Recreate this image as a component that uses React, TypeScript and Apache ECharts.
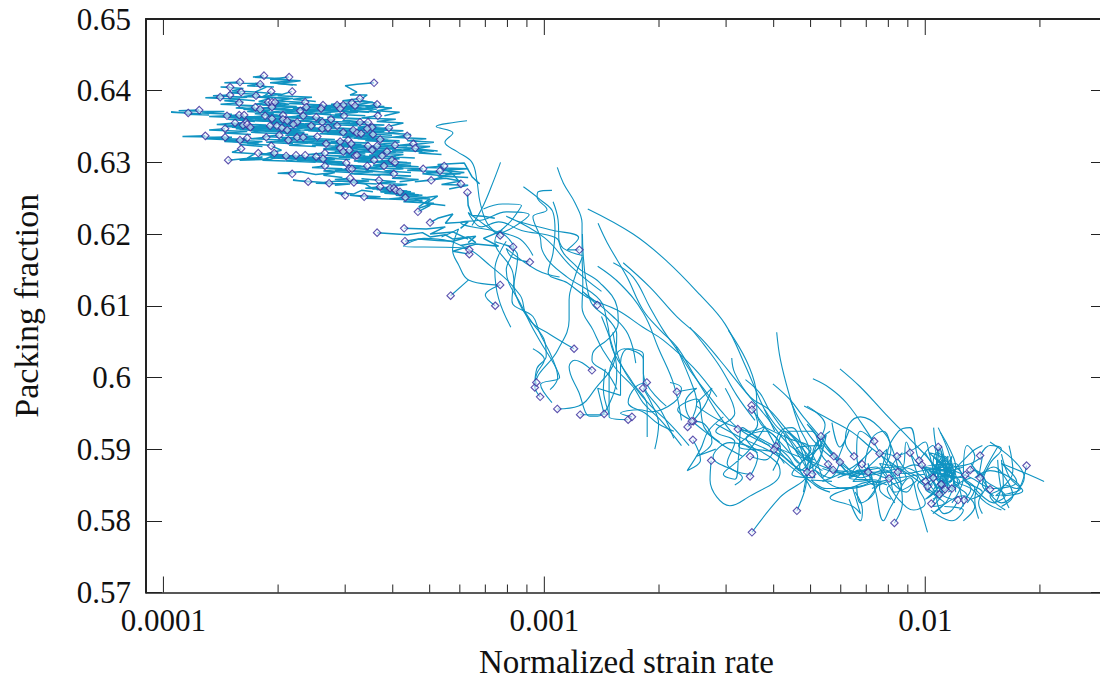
import React, { useEffect, useRef } from "react";
import * as echarts from "echarts";

// All tracks: flat lists of log10(normalized strain rate), packing fraction pairs.
const tickYLabelsMin = 0.57;
const tickYLabelsMax = 0.65;
const xMin = 9e-5;
const xMax = 0.03;
const majorTicks = [1e-4, 1e-3, 1e-2];
const minorTicks = [2e-4,3e-4,4e-4,5e-4,6e-4,7e-4,8e-4,9e-4,2e-3,3e-3,4e-3,5e-3,6e-3,7e-3,8e-3,9e-3,2e-2];
const xTickLabels = ["0.0001", "0.001", "0.01"];

// tracks on the dense plateau; first pair of each carries a marker
const plateauTracks: number[][] = [
[-3.736,.6421,-3.765,.6419,-3.70,.6417,-3.66,.6414,-3.72,.6411,-3.65,.6408],
[-3.670,.6419,-3.72,.6416,-3.64,.6414,-3.70,.6410,-3.66,.6408],
[-3.799,.6412,-3.84,.6411,-3.74,.6410,-3.78,.6407,-3.71,.6405],
[-3.825,.6405,-3.85,.6405,-3.79,.6403,-3.82,.6400,-3.76,.6398],
[-3.746,.6409,-3.73,.6405,-3.76,.6398,-3.69,.6395,-3.74,.6392,-3.67,.6389],
[-3.662,.6399,-3.70,.6393,-3.61,.6391,-3.66,.6388,-3.60,.6385],
[-3.717,.6399,-3.74,.6391,-3.66,.6389,-3.71,.6386,-3.64,.6384],
[-3.447,.6411,-3.492,.6409,-3.523,.6407,-3.492,.6398,-3.51,.6394,-3.465,.6394,-3.484,.6387,-3.44,.6382,-3.47,.6375,-3.43,.6368],
[-3.796,.6398,-3.83,.6397,-3.75,.6395,-3.79,.6392,-3.72,.6390],
[-3.825,.6394,-3.87,.6393,-3.78,.6391,-3.83,.6389,-3.76,.6386],
[-3.851,.6391,-3.89,.6390,-3.80,.6388,-3.84,.6386,-3.79,.6384],
[-3.757,.6393,-3.72,.6389,-3.75,.6385,-3.68,.6382,-3.72,.6379],
[-3.801,.6383,-3.85,.6381,-3.76,.6379,-3.81,.6376,-3.74,.6374],
[-3.725,.6384,-3.76,.6381,-3.68,.6379,-3.73,.6376,-3.66,.6373],
[-3.715,.6384,-3.67,.6381,-3.71,.6378,-3.63,.6376,-3.68,.6372],
[-3.707,.6384,-3.74,.6380,-3.65,.6378,-3.70,.6374,-3.62,.6372],
[-3.715,.6377,-3.76,.6375,-3.67,.6373,-3.72,.6370,-3.64,.6368],
[-3.628,.6384,-3.67,.6382,-3.58,.6380,-3.63,.6377,-3.56,.6375],
[-3.484,.6389,-3.53,.6386,-3.45,.6384,-3.50,.6380,-3.42,.6378,-3.47,.6375],
[-3.505,.6383,-3.56,.6381,-3.47,.6379,-3.53,.6376,-3.44,.6374],
[-3.497,.6379,-3.54,.6377,-3.45,.6375,-3.51,.6372,-3.43,.6370],
[-3.528,.6380,-3.57,.6378,-3.48,.6376,-3.54,.6372,-3.46,.6370],
[-3.544,.6380,-3.60,.6378,-3.50,.6376,-3.56,.6373,-3.49,.6370],
[-3.581,.6380,-3.63,.6378,-3.54,.6376,-3.59,.6373,-3.52,.6371],
[-3.586,.6375,-3.64,.6373,-3.54,.6371,-3.60,.6368,-3.53,.6365],
[-3.536,.6375,-3.58,.6373,-3.49,.6370,-3.55,.6367,-3.47,.6365],
[-3.641,.6372,-3.69,.6370,-3.60,.6368,-3.65,.6365,-3.58,.6362],
[-3.625,.6377,-3.66,.6375,-3.57,.6373,-3.63,.6370,-3.56,.6367],
[-3.439,.6381,-3.47,.6378,-3.40,.6376,-3.44,.6372,-3.38,.6370,-3.42,.6365],
[-3.906,.6373,-3.96,.6372,-3.84,.6371,-3.90,.6369,-3.82,.6367],
[-3.935,.6369,-3.98,.6370,-3.90,.6368,-3.94,.6367,-3.88,.6366],
[-3.759,.6377,-3.79,.6374,-3.72,.6372,-3.76,.6368,-3.70,.6366],
[-3.746,.6374,-3.78,.6371,-3.71,.6369,-3.74,.6366,-3.68,.6363],
[-3.833,.6365,-3.88,.6364,-3.78,.6362,-3.83,.6360,-3.76,.6357],
[-3.801,.6366,-3.84,.6365,-3.74,.6363,-3.80,.6360,-3.72,.6357],
[-3.788,.6366,-3.83,.6364,-3.74,.6362,-3.79,.6359,-3.71,.6357],
[-3.733,.6365,-3.78,.6363,-3.69,.6361,-3.74,.6358,-3.66,.6356],
[-3.686,.6366,-3.73,.6364,-3.64,.6362,-3.69,.6359,-3.61,.6357],
[-3.633,.6365,-3.68,.6363,-3.59,.6361,-3.64,.6358,-3.56,.6356],
[-3.526,.6365,-3.57,.6363,-3.48,.6361,-3.53,.6358,-3.46,.6356],
[-3.437,.6365,-3.48,.6362,-3.39,.6360,-3.44,.6357,-3.37,.6355,-3.41,.6350],
[-3.812,.6355,-3.86,.6353,-3.77,.6351,-3.82,.6349,-3.75,.6347],
[-3.783,.6356,-3.82,.6354,-3.73,.6352,-3.78,.6349,-3.71,.6346],
[-3.791,.6352,-3.84,.6350,-3.75,.6348,-3.80,.6346,-3.72,.6343],
[-3.780,.6353,-3.82,.6351,-3.73,.6349,-3.78,.6346,-3.70,.6344],
[-3.772,.6349,-3.81,.6347,-3.73,.6345,-3.77,.6342,-3.69,.6340],
[-3.715,.6361,-3.76,.6359,-3.67,.6357,-3.72,.6354,-3.65,.6352],
[-3.686,.6360,-3.73,.6358,-3.64,.6356,-3.69,.6353,-3.62,.6351],
[-3.675,.6358,-3.72,.6356,-3.63,.6354,-3.68,.6351,-3.60,.6349],
[-3.649,.6356,-3.69,.6354,-3.60,.6352,-3.65,.6349,-3.58,.6347],
[-3.659,.6353,-3.70,.6351,-3.62,.6349,-3.66,.6346,-3.59,.6344],
[-3.599,.6363,-3.64,.6361,-3.55,.6359,-3.60,.6356,-3.53,.6354],
[-3.583,.6356,-3.63,.6354,-3.54,.6352,-3.59,.6349,-3.52,.6347],
[-3.560,.6360,-3.60,.6358,-3.51,.6356,-3.56,.6353,-3.49,.6351],
[-3.544,.6351,-3.59,.6349,-3.50,.6347,-3.55,.6344,-3.47,.6342],
[-3.484,.6356,-3.53,.6354,-3.44,.6352,-3.49,.6349,-3.42,.6347],
[-3.463,.6356,-3.51,.6354,-3.42,.6352,-3.47,.6349,-3.40,.6347],
[-3.452,.6349,-3.49,.6347,-3.41,.6345,-3.46,.6342,-3.38,.6340],
[-3.408,.6348,-3.45,.6346,-3.37,.6344,-3.41,.6341,-3.35,.6339,-3.39,.6335],
[-3.838,.6347,-3.88,.6345,-3.78,.6343,-3.84,.6341,-3.77,.6339],
[-3.720,.6351,-3.76,.6349,-3.68,.6347,-3.72,.6344,-3.65,.6342],
[-3.702,.6351,-3.74,.6349,-3.65,.6347,-3.71,.6344,-3.63,.6342],
[-3.689,.6348,-3.73,.6346,-3.64,.6344,-3.69,.6341,-3.62,.6339],
[-3.675,.6345,-3.72,.6343,-3.63,.6341,-3.68,.6338,-3.60,.6336],
[-3.612,.6351,-3.65,.6349,-3.57,.6347,-3.62,.6344,-3.54,.6342],
[-3.583,.6347,-3.63,.6345,-3.53,.6343,-3.59,.6340,-3.51,.6338],
[-3.568,.6348,-3.61,.6346,-3.52,.6344,-3.57,.6341,-3.50,.6339],
[-3.528,.6342,-3.57,.6340,-3.48,.6338,-3.53,.6335,-3.46,.6333],
[-3.502,.6345,-3.55,.6343,-3.46,.6341,-3.51,.6338,-3.44,.6336],
[-3.492,.6341,-3.54,.6339,-3.45,.6337,-3.50,.6334,-3.42,.6332],
[-3.481,.6340,-3.52,.6338,-3.43,.6336,-3.49,.6333,-3.41,.6331],
[-3.465,.6347,-3.51,.6345,-3.42,.6343,-3.47,.6340,-3.40,.6338],
[-3.450,.6339,-3.49,.6337,-3.40,.6335,-3.46,.6332,-3.38,.6330],
[-3.431,.6332,-3.47,.6330,-3.38,.6328,-3.44,.6325,-3.36,.6323],
[-3.890,.6337,-3.95,.6336,-3.82,.6335,-3.89,.6333,-3.80,.6331],
[-3.838,.6335,-3.88,.6334,-3.78,.6332,-3.84,.6330,-3.76,.6327],
[-3.799,.6331,-3.84,.6329,-3.75,.6327,-3.80,.6325,-3.74,.6322],
[-3.780,.6334,-3.81,.6331,-3.74,.6329,-3.78,.6326,-3.72,.6324],
[-3.730,.6335,-3.77,.6333,-3.68,.6331,-3.73,.6328,-3.66,.6326],
[-3.696,.6338,-3.74,.6336,-3.65,.6334,-3.70,.6331,-3.63,.6329],
[-3.672,.6331,-3.71,.6329,-3.62,.6327,-3.67,.6324,-3.60,.6322],
[-3.649,.6335,-3.69,.6333,-3.60,.6331,-3.65,.6328,-3.58,.6326],
[-3.633,.6335,-3.68,.6333,-3.58,.6331,-3.63,.6328,-3.56,.6326],
[-3.596,.6336,-3.64,.6334,-3.55,.6332,-3.60,.6329,-3.53,.6327],
[-3.536,.6329,-3.58,.6327,-3.48,.6325,-3.54,.6322,-3.46,.6320],
[-3.515,.6331,-3.56,.6329,-3.46,.6327,-3.52,.6324,-3.44,.6322],
[-3.360,.6337,-3.40,.6335,-3.31,.6333,-3.36,.6330,-3.29,.6328,-3.34,.6325],
[-3.344,.6326,-3.38,.6324,-3.30,.6322,-3.34,.6319,-3.28,.6316],
[-3.339,.6320,-3.37,.6318,-3.29,.6316,-3.33,.6313,-3.27,.6311],
[-3.573,.6326,-3.61,.6324,-3.53,.6322,-3.58,.6319,-3.50,.6317],
[-3.507,.6326,-3.55,.6324,-3.46,.6322,-3.51,.6319,-3.44,.6317],
[-3.463,.6323,-3.50,.6321,-3.41,.6319,-3.47,.6316,-3.39,.6314],
[-3.439,.6323,-3.48,.6321,-3.39,.6319,-3.44,.6316,-3.37,.6314],
[-3.392,.6324,-3.44,.6322,-3.35,.6320,-3.40,.6317,-3.32,.6315],
[-3.452,.6317,-3.50,.6315,-3.41,.6313,-3.46,.6310,-3.39,.6308],
[-3.536,.6320,-3.58,.6318,-3.49,.6316,-3.54,.6313,-3.47,.6310],
[-3.528,.6315,-3.57,.6313,-3.48,.6311,-3.53,.6308,-3.46,.6306],
[-3.512,.6317,-3.55,.6315,-3.47,.6313,-3.52,.6310,-3.45,.6308],
[-3.497,.6309,-3.54,.6307,-3.45,.6305,-3.50,.6302,-3.43,.6300],
[-3.492,.6310,-3.53,.6308,-3.44,.6306,-3.49,.6303,-3.42,.6301],
[-3.413,.6315,-3.45,.6313,-3.37,.6311,-3.41,.6308,-3.34,.6306],
[-3.426,.6309,-3.47,.6307,-3.38,.6305,-3.43,.6302,-3.36,.6300],
[-3.796,.6319,-3.82,.6314,-3.76,.6312,-3.78,.6306,-3.72,.6304,-3.70,.6308],
[-3.751,.6313,-3.71,.6310,-3.74,.6303,-3.68,.6302],
[-3.717,.6323,-3.69,.6317,-3.73,.6312,-3.67,.6310,-3.71,.6306],
[-3.709,.6313,-3.75,.6311,-3.66,.6309,-3.71,.6306,-3.63,.6304],
[-3.678,.6309,-3.72,.6307,-3.63,.6305,-3.68,.6302,-3.60,.6300],
[-3.652,.6310,-3.69,.6308,-3.60,.6306,-3.65,.6303,-3.58,.6301],
[-3.628,.6310,-3.67,.6308,-3.58,.6306,-3.63,.6303,-3.56,.6301],
[-3.599,.6308,-3.64,.6306,-3.55,.6304,-3.60,.6301,-3.53,.6299],
[-3.581,.6305,-3.62,.6303,-3.53,.6301,-3.58,.6298,-3.51,.6296],
[-3.576,.6313,-3.62,.6311,-3.53,.6309,-3.58,.6306,-3.51,.6304],
[-3.447,.6303,-3.49,.6301,-3.40,.6299,-3.45,.6296,-3.38,.6294],
[-3.400,.6303,-3.44,.6301,-3.35,.6299,-3.40,.6296,-3.33,.6294],
[-3.392,.6300,-3.43,.6298,-3.35,.6296,-3.39,.6293,-3.32,.6291],
[-3.465,.6295,-3.51,.6293,-3.42,.6291,-3.47,.6288,-3.40,.6286],
[-3.421,.6295,-3.46,.6293,-3.37,.6291,-3.42,.6288,-3.35,.6286],
[-3.830,.6303,-3.79,.6305,-3.74,.6307,-3.80,.6303,-3.74,.6304],
[-3.576,.6295,-3.61,.6293,-3.53,.6291,-3.58,.6288,-3.51,.6286],
[-3.520,.6299,-3.56,.6297,-3.48,.6295,-3.52,.6292,-3.46,.6290],
[-3.512,.6291,-3.55,.6289,-3.46,.6287,-3.51,.6284,-3.44,.6283],
[-3.505,.6291,-3.54,.6289,-3.45,.6287,-3.50,.6284,-3.43,.6282],
[-3.318,.6291,-3.36,.6289,-3.27,.6287,-3.32,.6284,-3.26,.6281,-3.29,.6276],
[-3.263,.6295,-3.31,.6293,-3.20,.6291,-3.27,.6289,-3.21,.6286,-3.26,.6283],
[-3.274,.6288,-3.31,.6286,-3.22,.6284,-3.28,.6281,-3.20,.6279],
[-3.395,.6284,-3.44,.6283,-3.35,.6281,-3.40,.6278,-3.33,.6276,-3.38,.6273],
[-3.662,.6284,-3.70,.6285,-3.64,.6287,-3.60,.6283,-3.55,.6286,-3.58,.6282,-3.53,.6279],
[-3.510,.6278,-3.55,.6276,-3.46,.6274,-3.51,.6272,-3.44,.6270],
[-3.500,.6272,-3.47,.6270,-3.45,.6263,-3.40,.6266,-3.44,.6262],
[-3.620,.6273,-3.66,.6275,-3.58,.6272,-3.54,.6274,-3.49,.6272],
[-3.565,.6271,-3.60,.6271,-3.51,.6270,-3.55,.6268],
[-3.434,.6275,-3.48,.6277,-3.39,.6273,-3.44,.6271,-3.36,.6269,-3.41,.6266],
[-3.297,.6275,-3.34,.6273,-3.26,.6278,-3.22,.6274,-3.27,.6269,-3.20,.6268,-3.25,.6263],
[-3.219,.6270,-3.24,.6284,-3.28,.6297,-3.21,.6299,-3.19,.6280,-3.17,.6270],
[-3.431,.6266,-3.47,.6264,-3.38,.6262,-3.43,.6259,-3.35,.6257],
[-3.405,.6264,-3.44,.6262,-3.36,.6260,-3.41,.6257,-3.33,.6255],
[-3.395,.6264,-3.43,.6262,-3.35,.6259,-3.39,.6256,-3.32,.6254],
[-3.390,.6261,-3.43,.6259,-3.34,.6257,-3.39,.6254,-3.31,.6251],
[-3.379,.6259,-3.42,.6257,-3.33,.6254,-3.38,.6251,-3.30,.6249,-3.33,.6238],
[-3.365,.6251,-3.41,.6249,-3.32,.6247,-3.37,.6245,-3.29,.6243,-3.33,.6236],
[-3.523,.6254,-3.55,.6258,-3.50,.6256,-3.48,.6261,-3.45,.6259],
[-3.473,.6252,-3.51,.6254,-3.43,.6252,-3.47,.6250,-3.41,.6249],
[-3.202,.6258,-3.20,.6240,-3.19,.6226,-3.16,.6225,-3.13,.6222],
[-3.332,.6231,-3.30,.6240,-3.34,.6249,-3.28,.6253,-3.31,.6243,-3.26,.6240],
[-3.368,.6208,-3.31,.6207,-3.26,.6210,-3.30,.6200,-3.24,.6203,-3.20,.6193],
[-3.300,.6216,-3.28,.6222,-3.24,.6228,-3.26,.6215,-3.20,.6217,-3.22,.6208],
[-3.439,.6202,-3.36,.6199,-3.32,.6202,-3.30,.6196,-3.26,.6199,-3.24,.6193,-3.18,.6197,-3.20,.6188],
[-3.366,.6190,-3.33,.6193,-3.28,.6191,-3.24,.6190,-3.20,.6196,-3.18,.6188,-3.22,.6184],
[-3.197,.6172,-3.24,.6176,-3.18,.6186,-3.12,.6183,-3.16,.6194,-3.11,.6205],
];

// long sweeps with no marker, coming down from the plateau
const sweepTracks: number[][] = [
[-2.886,.6235,-2.767,.6200,-2.678,.6162,-2.591,.6115,-2.525,.6074,-2.473,.6017,-2.434,.5969,-2.395,.5925],
[-2.859,.6215,-2.835,.6188,-2.783,.6140,-2.741,.6094,-2.696,.6066,-2.651,.6042,-2.610,.6006,-2.571,.5972,-2.539,.5945,-2.49,.5913,-2.44,.5895],
[-2.793,.6160,-2.723,.6126,-2.651,.6084,-2.591,.6056,-2.539,.6024,-2.486,.5989,-2.42,.5947,-2.355,.5905,-2.29,.5885],
[-2.819,.6160,-2.767,.6140,-2.723,.6098,-2.688,.6066,-2.651,.6038,-2.618,.6010,-2.573,.5978,-2.539,.5955,-2.486,.5927,-2.408,.5905],
[-2.966,.6293,-2.950,.6271,-2.919,.6243,-2.901,.6215,-2.901,.6173,-2.899,.6132,-2.901,.6098,-2.872,.6066,-2.846,.6038,-2.809,.6010,-2.767,.5987,-2.741,.5965,-2.696,.5941,-2.64,.5905],
[-3.055,.6266,-3.011,.6248,-2.977,.6230,-2.972,.6206,-2.977,.6174,-2.990,.6146,-2.940,.6132,-2.888,.6112,-2.809,.6094,-2.741,.6070,-2.688,.6052,-2.609,.6014,-2.547,.5973],
[-2.977,.6245,-2.964,.6220,-2.961,.6188,-2.914,.6154,-2.854,.6132,-2.809,.6098,-2.806,.6076,-2.828,.6056,-2.873,.6034,-2.875,.6024,-2.835,.6006,-2.809,.5983],
[-2.980,.6261,-3.016,.6259,-3.019,.6252,-2.993,.6234,-3.030,.6224,-3.011,.6196,-3.006,.6178,-2.985,.6160,-2.940,.6140,-2.854,.6108,-2.835,.6076,-2.820,.6038,-2.767,.5992,-2.730,.5959,-2.730,.5917],
[-3.115,.6300,-3.132,.6276,-3.160,.6240,-3.190,.6212],
[-3.111,.6195,-3.17,.6218,-3.20,.6230,-3.165,.6210,-3.12,.6217,-3.06,.6205,-2.97,.6195,-2.95,.6180,-2.90,.6170],
[-3.116,.6201,-3.08,.6210,-3.04,.6227,-3.10,.6231,-3.16,.6220,-3.22,.6216,-3.07,.6195,-3.03,.6170],
[-3.088,.6070,-3.12,.6110,-3.13,.6150,-3.10,.6190],
[-2.525,.5985,-2.50,.5950,-2.55,.5925,-2.50,.5910,-2.52,.5880,-2.48,.5860,-2.50,.5850],
[-2.618,.6070,-2.58,.6045,-2.539,.6015,-2.495,.5975,-2.447,.5940],
[-2.654,.6043,-2.61,.5987,-2.60,.5965,-2.61,.5945],
[-2.82,.6063,-2.80,.6020,-2.76,.5985,-2.72,.5960,-2.67,.5935,-2.62,.5905],
[-2.86,.6155,-2.80,.6130,-2.74,.6090,-2.70,.6040,-2.66,.5990,-2.64,.5940],
];

// descending tracks whose first pair carries a marker
const descentTracks: number[][] = [
[-3.116,.6198,-3.150,.6215,-3.169,.6245,-3.177,.6274,-3.190,.6300,-3.229,.6315,-3.261,.6328,-3.240,.6341,-3.284,.6350,-3.234,.6356,-3.203,.6358],
[-2.861,.6101,-2.90,.6120,-2.82,.6085,-2.78,.6060,-2.76,.6020],
[-3.025,.5986,-3.02,.6005,-3.00,.6025,-3.03,.6040],
[-3.116,.6129,-3.199,.6136,-3.225,.6157,-3.241,.6178,-3.225,.6207,-3.252,.6200,-3.27,.6196],
[-3.246,.6114,-3.199,.6136],
[-3.129,.6100,-3.155,.6115,-3.116,.6129],
[-3.197,.6178,-3.248,.6190,-3.316,.6194,-3.37,.6183,-3.22,.6181,-3.14,.6155,-3.064,.6115,-3.050,.6090,-3.015,.6054,-2.974,.6018,-2.96,.6000,-3.01,.5990,-2.98,.5965],
[-3.082,.6182,-3.128,.6189,-3.07,.6170,-3.085,.6107,-3.03,.6085,-3.013,.6063,-2.98,.6028,-2.965,.6000,-2.985,.5983],
[-3.038,.6161,-3.085,.6168,-3.10,.6180,-3.02,.6150,-2.96,.6140],
[-2.908,.6178,-2.94,.6178,-2.91,.6195,-2.985,.6206,-3.07,.6218,-3.10,.6225,-3.00,.6195,-2.93,.6155,-2.85,.6120],
[-2.922,.6040,-2.985,.6060,-3.035,.6078,-3.075,.6115,-3.085,.6150,-3.13,.6190,-3.085,.6220,-3.06,.6240,-3.11,.6242,-3.16,.6235],
[-2.875,.6010,-2.92,.6024,-2.935,.6015,-2.91,.5980,-2.88,.5946,-2.86,.5946,-2.82,.5975,-2.81,.6010,-2.825,.6050,-2.85,.6085],
[-3.021,.5993,-3.025,.5987,-3.02,.6012,-2.995,.6030,-3.00,.6052,-3.03,.6075,-3.06,.6100,-3.10,.6150,-3.08,.6180,-3.12,.6205],
[-3.011,.5973,-3.025,.5987,-2.965,.6038,-2.935,.6080,-2.935,.6108,-2.92,.6140,-2.90,.6168],
[-2.966,.5956,-2.91,.5960,-2.865,.5985,-2.815,.6025,-2.81,.6060,-2.83,.6080,-2.88,.6108,-2.90,.6200],
[-2.906,.5948,-2.83,.5949,-2.845,.5983,-2.84,.6012],
[-2.843,.5949,-2.86,.5985,-2.80,.5975,-2.80,.6020,-2.78,.6040,-2.74,.6032,-2.74,.6005,-2.68,.5960],
[-2.780,.5941,-2.83,.5945,-2.83,.6000,-2.79,.6040,-2.74,.6025,-2.74,.5995,-2.69,.5950,-2.66,.5915],
[-2.770,.5945,-2.80,.5950,-2.75,.5955,-2.72,.5952,-2.66,.5965,-2.64,.5985,-2.67,.5993],
[-2.731,.5993,-2.76,.5987,-2.78,.5965,-2.735,.5950,-2.70,.5935,-2.66,.5925],
[-2.741,.5985,-2.72,.5965,-2.70,.5935,-2.71,.5900],
[-2.652,.5980,-2.60,.5985,-2.63,.5965,-2.62,.5945,-2.58,.5925,-2.53,.5905,-2.48,.5890],
[-2.624,.5931,-2.58,.5960,-2.56,.5985,-2.60,.5965],
[-2.609,.5939,-2.65,.5955,-2.60,.5970,-2.58,.5930,-2.54,.5910],
[-2.613,.5939,-2.58,.5935,-2.56,.5910,-2.60,.5890,-2.55,.5900],
[-2.610,.5913,-2.59,.5885,-2.625,.5870,-2.59,.5900,-2.57,.5925,-2.53,.5945],
[-2.456,.5961,-2.44,.5935,-2.49,.5905,-2.39,.5895,-2.34,.5875,-2.29,.5865],
];

// bottom-end tracks, with markers on the first pair
const bottomTracks: number[][] = [
[-2.455,.5784,-2.381,.5833,-2.310,.5867,-2.337,.5895,-2.363,.5917,-2.394,.5934,-2.421,.5955],
[-2.337,.5814,-2.316,.5843,-2.308,.5867,-2.29,.5899,-2.263,.5934,-2.31,.5960],
[-2.562,.5884,-2.565,.5857,-2.547,.5833,-2.513,.5821,-2.468,.5832,-2.381,.5867,-2.389,.5881,-2.441,.5899,-2.513,.5909,-2.557,.5889,-2.50,.5870,-2.46,.5865],
[-2.492,.5928,-2.46,.5925,-2.42,.5932,-2.46,.5900,-2.50,.5880,-2.53,.5865,-2.50,.5858,-2.49,.5890,-2.48,.5930,-2.44,.5915,-2.40,.5900,-2.37,.5880],
[-2.460,.5890,-2.42,.5885,-2.39,.5905,-2.37,.5925,-2.33,.5905,-2.30,.5880,-2.32,.5860],
[-2.392,.5904,-2.36,.5890,-2.33,.5870,-2.29,.5895,-2.26,.5920,-2.28,.5885,-2.31,.5870],
[-2.397,.5899,-2.38,.5925,-2.35,.5930,-2.32,.5900,-2.30,.5880,-2.29,.5905,-2.25,.5925],
[-2.310,.5868,-2.33,.5905,-2.36,.5925,-2.30,.5925,-2.27,.5890,-2.25,.5875,-2.27,.5860],
[-2.297,.5865,-2.27,.5900,-2.31,.5935,-2.28,.5915,-2.25,.5895,-2.21,.5870],
[-2.274,.5918,-2.25,.5899,-2.211,.5878,-2.171,.5860,-2.106,.5871,-2.066,.5843],
[-2.240,.5890,-2.198,.5871,-2.145,.5864,-2.053,.5874,-2.00,.5857],
[-2.224,.5882,-2.25,.5860,-2.29,.5871,-2.224,.5846,-2.145,.5857,-2.15,.5880],
[-2.255,.5879,-2.21,.5864,-2.171,.5871,-2.132,.5843,-2.17,.5825,-2.18,.5850],
[-2.242,.5871,-2.19,.5868,-2.13,.5875,-2.10,.5860,-2.05,.5840,-2.03,.5855],
[-2.187,.5890,-2.21,.5910,-2.20,.5935,-2.17,.5945,-2.12,.5930,-2.09,.5900,-2.11,.5870,-2.13,.5850],
[-2.166,.5879,-2.14,.5860,-2.19,.5855,-2.13,.5885,-2.10,.5900,-2.12,.5845,-2.09,.5830],
[-2.150,.5868,-2.20,.5860,-2.16,.5870,-2.08,.5875,-2.05,.5860,-2.10,.5845,-2.08,.5825],
[-2.095,.5859,-2.12,.5880,-2.06,.5875,-2.05,.5910,-2.03,.5880,-2.01,.5855,-1.98,.5850],
[-2.072,.5868,-2.10,.5890,-2.07,.5925,-2.04,.5930,-2.02,.5890,-2.00,.5870,-1.99,.5840],
[-2.081,.5797,-2.06,.5825,-2.07,.5870,-2.09,.5905,-2.11,.5925,-2.14,.5915,-2.16,.5875],
[-2.134,.5911,-2.17,.5925,-2.18,.5900,-2.17,.5870,-2.13,.5850,-2.10,.5855,-2.14,.5845],
[-2.120,.5894,-2.08,.5890,-2.05,.5870,-2.02,.5860,-2.08,.5840,-2.09,.5870,-2.06,.5895],
[-2.074,.5890,-2.03,.5900,-2.00,.5910,-1.99,.5895,-1.97,.5860,-1.94,.5850,-1.98,.5830],
[-2.040,.5895,-2.02,.5880,-1.99,.5865,-2.02,.5850,-2.00,.5825,-2.03,.5815,-2.07,.5830,-2.10,.5855],
[-2.016,.5884,-1.98,.5905,-1.97,.5870,-2.00,.5845,-1.96,.5835,-1.98,.5860,-1.95,.5880],
[-2.009,.5878,-1.99,.5865,-1.97,.5845,-2.00,.5830,-1.95,.5855,-1.93,.5875],
[-1.966,.5903,-1.97,.5880,-1.96,.5860,-1.98,.5840,-1.95,.5825,-1.98,.5820,-1.93,.5850],
[-1.979,.5860,-1.96,.5880,-1.94,.5890,-1.95,.5860,-1.97,.5845,-1.92,.5860],
[-1.999,.5855,-1.97,.5880,-1.96,.5905,-1.94,.5870,-1.91,.5855,-1.94,.5840],
[-1.994,.5848,-1.97,.5860,-1.95,.5885,-1.93,.5860,-1.96,.5840,-1.93,.5830],
[-1.958,.5851,-1.98,.5870,-1.97,.5895,-1.93,.5875,-1.91,.5845,-1.90,.5820],
[-1.948,.5844,-1.97,.5875,-1.95,.5890,-1.92,.5850,-1.89,.5835,-1.91,.5815],
[-1.963,.5837,-1.94,.5860,-1.95,.5880,-1.92,.5875,-1.90,.5860,-1.93,.5825],
[-1.930,.5845,-1.95,.5865,-1.92,.5880,-1.90,.5860,-1.87,.5845,-1.89,.5825],
[-1.984,.5824,-1.96,.5850,-1.97,.5870,-1.94,.5875,-1.92,.5840],
[-1.914,.5829,-1.93,.5815,-1.95,.5810,-1.97,.5830,-1.92,.5850,-1.88,.5860],
[-1.898,.5829,-1.88,.5845,-1.90,.5860,-1.87,.5870,-1.84,.5850,-1.86,.5825,-1.85,.5810],
[-1.895,.5864,-1.93,.5860,-1.95,.5870,-1.88,.5880,-1.85,.5890,-1.86,.5860],
[-1.882,.5871,-1.87,.5890,-1.89,.5905,-1.90,.5860,-1.85,.5840,-1.88,.5830],
[-1.856,.5860,-1.88,.5880,-1.84,.5855,-1.81,.5845,-1.79,.5835,-1.82,.5825],
[-1.830,.5844,-1.85,.5860,-1.82,.5875,-1.79,.5860,-1.77,.5835,-1.80,.5820],
[-1.856,.5891,-1.83,.5905,-1.80,.5900,-1.83,.5880,-1.85,.5850,-1.82,.5835],
[-1.734,.5877,-1.745,.5855,-1.76,.5840,-1.80,.5825,-1.84,.5845],
[-2.455,.5955,-2.42,.5930,-2.38,.5895,-2.33,.5870,-2.30,.5845],
[-2.460,.5862,-2.44,.5890,-2.47,.5915,-2.42,.5925,-2.38,.5900,-2.40,.5870],
];

// tracks with no marker: high sweeps at the low-fraction end and the star of crossings
const openTracks: number[][] = [
[-2.224,.6012,-2.171,.5987,-2.106,.5950,-2.035,.5911,-1.988,.5885,-1.95,.5860],
[-2.295,.5998,-2.25,.5985,-2.206,.5964,-2.151,.5923,-2.119,.5895,-2.09,.5870,-2.06,.5850],
[-2.318,.5960,-2.25,.5941,-2.19,.5923,-2.145,.5903,-2.09,.5881,-2.03,.5860,-1.97,.5835],
[-2.400,.5991,-2.355,.5969,-2.32,.5945,-2.276,.5917,-2.24,.5890,-2.20,.5865],
[-2.390,.6063,-2.38,.6024,-2.355,.5972,-2.33,.5930,-2.305,.5897,-2.31,.5870,-2.32,.5840],
[-2.508,.6027,-2.50,.6006,-2.46,.5973,-2.41,.5955,-2.36,.5925,-2.30,.5895,-2.27,.5860],
[-2.472,.5997,-2.434,.5978,-2.41,.5955,-2.37,.5925,-2.32,.5890],
[-2.517,.6066,-2.47,.6024,-2.445,.5985,-2.44,.5945,-2.39,.5915,-2.33,.5880],
[-2.10,.5850,-2.14,.5855,-2.19,.5847,-2.25,.5832,-2.19,.5820,-2.17,.5810,-2.19,.5845],
[-2.245,.5855,-2.30,.5857,-2.26,.5845,-2.20,.5845,-2.14,.5852,-2.07,.5860,-2.00,.5865],
[-2.27,.5873,-2.20,.5865,-2.12,.5868,-2.05,.5866,-1.98,.5872,-1.92,.5867],
[-2.23,.5860,-2.16,.5870,-2.10,.5860,-2.03,.5878,-1.97,.5866,-1.90,.5860],
[-1.994,.5784,-2.02,.5830,-2.04,.5860,-2.09,.5820,-2.11,.5800,-2.13,.5840,-2.15,.5880],
[-1.978,.5930,-1.97,.5900,-1.95,.5870,-1.96,.5845,-1.985,.5860,-1.95,.5885,-1.99,.5895,-1.94,.5860,-1.97,.5850,-1.93,.5880,-2.00,.5875,-1.92,.5865,-1.99,.5860,-1.93,.5855,-1.96,.5900,-1.94,.5845],
[-2.00,.5895,-1.96,.5870,-1.93,.5890,-1.97,.5840,-2.01,.5875,-1.93,.5870,-1.97,.5885,-1.95,.5850,-1.99,.5870,-1.92,.5860,-1.98,.5890,-1.94,.5870,-1.96,.5865,-1.90,.5875],
[-1.966,.5930,-1.935,.5890,-1.925,.5860,-1.94,.5830,-1.98,.5810,-1.90,.5835,-1.87,.5820,-1.90,.5800],
[-1.688,.5855,-1.74,.5867,-1.80,.5880,-1.76,.5855,-1.82,.5845,-1.88,.5860,-1.95,.5875],
[-1.83,.5910,-1.74,.5860,-1.76,.5845,-1.79,.5850,-1.82,.5825,-1.87,.5845],
[-1.80,.5885,-1.795,.5850,-1.815,.5835,-1.75,.5845,-1.83,.5870,-1.87,.5860],
[-1.85,.5905,-1.88,.5895,-1.93,.5860,-1.88,.5845,-1.84,.5825,-1.80,.5815],
[-2.27,.5855,-2.19,.5875,-2.14,.5900,-2.20,.5860,-2.12,.5855,-2.15,.5830],
[-2.60,.5960,-2.54,.5940,-2.47,.5925,-2.38,.5900,-2.31,.5885,-2.24,.5870,-2.17,.5860],
[-2.55,.5935,-2.48,.5915,-2.40,.5895,-2.34,.5870,-2.30,.5855],
[-2.42,.5930,-2.36,.5915,-2.30,.5900,-2.33,.5875,-2.29,.5850,-2.25,.5840],
[-2.37,.5920,-2.33,.5880,-2.31,.5890,-2.29,.5860,-2.35,.5865,-2.27,.5905,-2.34,.5900,-2.27,.5870],
[-1.78,.5905,-1.77,.5870,-1.80,.5845,-1.83,.5835,-1.79,.5815],
[-1.80,.5893,-1.778,.5860,-1.744,.5842,-1.80,.5835],
[-1.81,.5885,-1.80,.5843,-1.78,.5818],
[-1.961,.5924,-1.935,.5899,-1.92,.5875,-1.935,.5853],
[-1.86,.5803,-1.87,.5829,-1.856,.5857,-1.81,.5903],
[-1.95,.5820,-1.90,.5815,-1.93,.5800,-1.985,.5815],
[-2.355,.5969,-2.33,.5941,-2.295,.5913,-2.25,.5890],
[-2.245,.5937,-2.224,.5903,-2.20,.5926,-2.23,.5885],
[-2.184,.5840,-2.165,.5815,-2.17,.5800,-2.20,.5830],
];

const toPairs = (t: number[]) => {
  const out: number[][] = [];
  for (let i = 0; i < t.length; i += 2) out.push([Math.pow(10, t[i]), t[i + 1]]);
  return out;
};

export default function App() {
  const ref = useRef<HTMLDivElement>(null);
  useEffect(() => {
    document.body.style.margin = "0";
    const chart = echarts.init(ref.current!, undefined, { renderer: "svg" });
    const font = "'Liberation Serif', serif";
    const lineColor = "#0f93c2";
    const line = (t: number[], smooth: number, width: number) => ({
      type: "line", data: toPairs(t), symbol: "none", smooth, silent: true,
      lineStyle: { color: lineColor, width }, clip: true, z: 2,
    });
    const tickSeries = (data: number[], len: number) => ({
      type: "custom", silent: true, clip: false, z: 5, data: data.map((v) => [v, tickYLabelsMin]),
      encode: { x: 0, y: 1 },
      renderItem: (_: any, api: any) => {
        const v = api.value(0);
        const b = api.coord([v, tickYLabelsMin]);
        const t = api.coord([v, tickYLabelsMax]);
        const style = { stroke: "#222", lineWidth: 1 };
        return { type: "group", children: [
          { type: "line", shape: { x1: b[0], y1: b[1], x2: b[0], y2: b[1] - len }, style },
          { type: "line", shape: { x1: t[0], y1: t[1], x2: t[0], y2: t[1] + len }, style },
        ] };
      },
    });
    const markers = [...plateauTracks, ...descentTracks, ...bottomTracks];
    chart.setOption({
      animation: false,
      backgroundColor: "#fff",
      grid: { left: 146, right: -7, top: 19, bottom: 86.5, containLabel: false, outerBoundsMode: "none" },
      xAxis: [
        { type: "log", logBase: 10, min: xMin, max: xMax, position: "bottom",
          name: "Normalized strain rate", nameLocation: "middle", nameGap: 53,
          nameTextStyle: { fontFamily: font, fontSize: 33, color: "#111" },
          axisLine: { show: true, lineStyle: { color: "#222", width: 1.5 } },
          axisTick: { show: false }, splitLine: { show: false }, minorTick: { show: false }, minorSplitLine: { show: false },
          axisLabel: { fontFamily: font, fontSize: 31, color: "#111", margin: 12, showMinLabel: false, showMaxLabel: false,
            formatter: (v: number) => {
              const i = majorTicks.findIndex((m) => Math.abs(m - v) / m < 1e-6);
              return i >= 0 ? xTickLabels[i] : "";
            } } },
        { type: "log", logBase: 10, min: xMin, max: xMax, position: "top",
          axisLine: { show: true, lineStyle: { color: "#222", width: 2 } },
          axisTick: { show: false }, axisLabel: { show: false }, splitLine: { show: false } },
      ],
      yAxis: [
        { type: "value", min: tickYLabelsMin, max: tickYLabelsMax, interval: 0.01, position: "left",
          name: "Packing fraction", nameLocation: "middle", nameGap: 103,
          nameTextStyle: { fontFamily: font, fontSize: 34, color: "#111" },
          axisLine: { show: true, lineStyle: { color: "#222", width: 2 } },
          axisTick: { show: true, inside: true, length: 16, lineStyle: { color: "#222", width: 1 } },
          splitLine: { show: false },
          axisLabel: { fontFamily: font, fontSize: 31, color: "#111", margin: 15 } },
        { type: "value", min: tickYLabelsMin, max: tickYLabelsMax, interval: 0.01, position: "right",
          axisLine: { show: true, lineStyle: { color: "#222", width: 2 } },
          axisTick: { show: true, inside: true, length: 16, lineStyle: { color: "#222", width: 1 } },
          axisLabel: { show: false }, splitLine: { show: false } },
      ],
      series: [
        ...plateauTracks.map((t) => line(t, 0, 1.5)),
        ...sweepTracks.map((t) => line(t, 0.4, 1.1)),
        ...descentTracks.map((t) => line(t, 0.4, 1.1)),
        ...bottomTracks.map((t) => line(t, 0.4, 1.1)),
        ...openTracks.map((t) => line(t, 0.4, 1.1)),
        tickSeries(majorTicks, 16),
        tickSeries(minorTicks, 8),
        { type: "scatter", silent: true, z: 4, symbol: "diamond", symbolSize: 7.5,
          data: markers.map((t) => [Math.pow(10, t[0]), t[1]]),
          itemStyle: { color: "rgba(240,245,255,0.7)", borderColor: "#35289a", borderWidth: 1.1 } },
      ],
    });
    return () => chart.dispose();
  }, []);
  return <div ref={ref} style={{ width: 1100, height: 679 }} />;
}
